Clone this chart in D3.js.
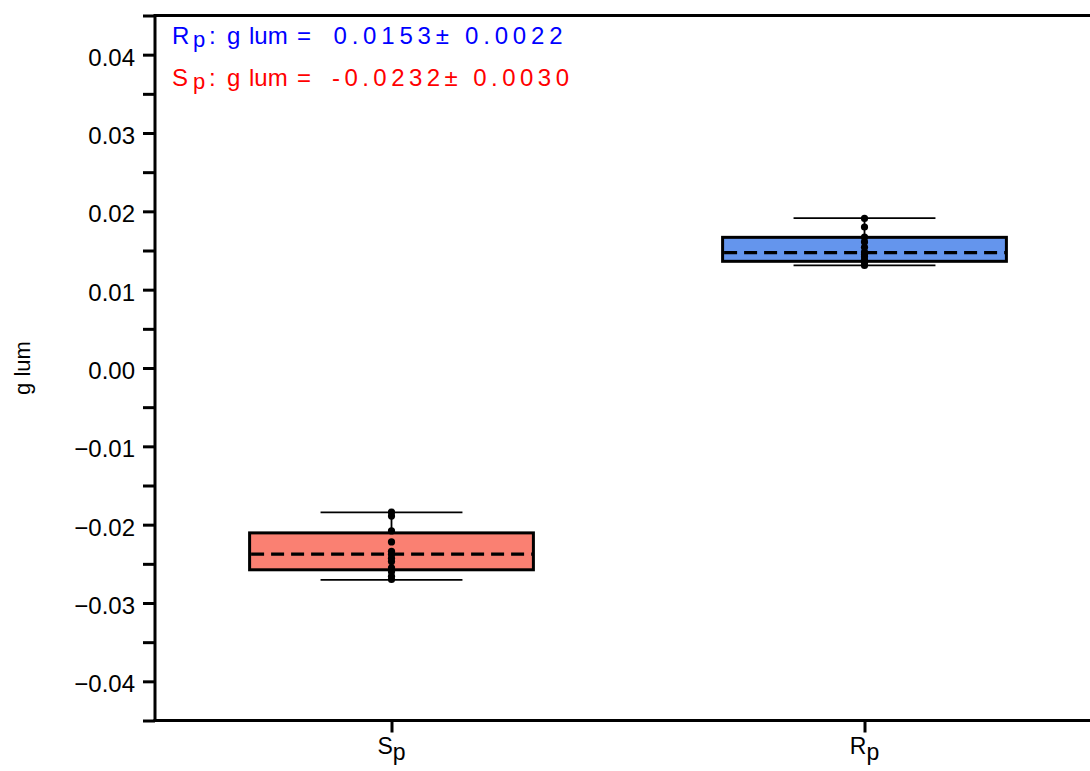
<!DOCTYPE html>
<html>
<head>
<meta charset="utf-8">
<script src="https://cdn.jsdelivr.net/npm/d3@7/dist/d3.min.js"></script>
<style>
  html, body { margin: 0; padding: 0; background: #fff; }
  svg { display: block; font-family: "Liberation Sans", Arial, sans-serif; }
</style>
</head>
<body>
<svg id="chart" width="1090" height="771"></svg>
<script>
// Categories (main letter + subscript) and box colours
const categories = ["S", "R"];
const categorySubs = ["p", "p"];
const boxColors = ["#fa8072", "#6495ed"];

// Individual g_lum measurements per category
const spValues = [-0.0184, -0.0189, -0.0208, -0.0222, -0.0234, -0.0238, -0.0243, -0.0247, -0.0255, -0.0260, -0.0266, -0.0270];
const rpValues = [0.0191, 0.0180, 0.0167, 0.0161, 0.0154, 0.0148, 0.0145, 0.0142, 0.0138, 0.0135, 0.0131];
const pointValues = [spValues, rpValues];

// Box statistics per category
const q1Values = [-0.02576, 0.01362];
const medianValues = [-0.02377, 0.01473];
const q3Values = [-0.02105, 0.01668];
const whiskerLow = [-0.02704, 0.01311];
const whiskerHigh = [-0.01842, 0.01914];

// Summary annotations (mean ± sd)
const summaryLabels = ["R", "S"];
const summaryMeans = ["0.0153", "-0.0232"];
const summarySds = ["0.0022", "0.0030"];
const summaryColors = ["#0000ff", "#ff0000"];

// Y ticks: labelled every 0.01, marks every 0.005
const yMajorTicks = [-0.04, -0.03, -0.02, -0.01, 0.00, 0.01, 0.02, 0.03, 0.04];
const yMinorTicks = [-0.045, -0.035, -0.025, -0.015, -0.005, 0.005, 0.015, 0.025, 0.035, 0.045];

const svg = d3.select("#chart");
const mLeft = 155, mRight = 1101, mTop = 15.5, mBottom = 720.5;

const x = d3.scaleLinear().domain([-0.5, 1.5]).range([mLeft, mRight]);
const y = d3.scaleLinear().domain([-0.045, 0.045]).range([mBottom, mTop]);

const boxW = 0.6, capW = 0.3;

// Boxes
categories.forEach((c, i) => {
  const g = svg.append("g");
  g.append("rect")
    .attr("x", x(i - boxW / 2)).attr("width", x(i + boxW / 2) - x(i - boxW / 2))
    .attr("y", y(q3Values[i])).attr("height", y(q1Values[i]) - y(q3Values[i]))
    .attr("fill", boxColors[i]).attr("stroke", "#000").attr("stroke-width", 3);
  // whisker stems
  g.append("line").attr("x1", x(i)).attr("x2", x(i))
    .attr("y1", y(q3Values[i])).attr("y2", y(whiskerHigh[i]))
    .attr("stroke", "#000").attr("stroke-width", 1.8);
  g.append("line").attr("x1", x(i)).attr("x2", x(i))
    .attr("y1", y(q1Values[i])).attr("y2", y(whiskerLow[i]))
    .attr("stroke", "#000").attr("stroke-width", 1.8);
  // caps
  [whiskerLow[i], whiskerHigh[i]].forEach(v => {
    g.append("line").attr("x1", x(i - capW / 2)).attr("x2", x(i + capW / 2))
      .attr("y1", y(v)).attr("y2", y(v))
      .attr("stroke", "#000").attr("stroke-width", 1.8);
  });
  // median
  g.append("line").attr("x1", x(i - boxW / 2) + 1.5).attr("x2", x(i + boxW / 2) - 1.5)
    .attr("y1", y(medianValues[i])).attr("y2", y(medianValues[i]))
    .attr("stroke", "#000").attr("stroke-width", 3.2).attr("stroke-dasharray", "13,7");
  // points
  g.selectAll("circle").data(pointValues[i]).join("circle")
    .attr("cx", x(i)).attr("cy", d => y(d)).attr("r", 3.6).attr("fill", "#000");
});

// Spines
const spine = svg.append("g").attr("stroke", "#000").attr("stroke-width", 3).attr("fill", "none");
spine.append("line").attr("x1", mLeft).attr("x2", mLeft).attr("y1", mTop).attr("y2", mBottom);
spine.append("line").attr("x1", mLeft - 1.5).attr("x2", 1090).attr("y1", mBottom).attr("y2", mBottom);
spine.append("line").attr("x1", mLeft - 1.5).attr("x2", 1090).attr("y1", mTop).attr("y2", mTop);

// Y axis: labelled major ticks
const gy = svg.append("g").attr("transform", `translate(${mLeft},0)`)
  .call(d3.axisLeft(y).tickValues(yMajorTicks).tickSize(12).tickPadding(8)
    .tickFormat(d => d3.format(".2f")(d).replace("-", "\u2212")));
gy.select(".domain").remove();
gy.selectAll(".tick line").attr("stroke-width", 3);
gy.selectAll(".tick text").attr("font-size", 24).attr("dy", "0.44em").attr("fill", "#000")
  .attr("font-family", "Liberation Sans, Arial, sans-serif");

// Y axis: unlabelled minor ticks
const gyMinor = svg.append("g").attr("transform", `translate(${mLeft},0)`)
  .call(d3.axisLeft(y).tickValues(yMinorTicks).tickSize(12).tickFormat(""));
gyMinor.select(".domain").remove();
gyMinor.selectAll(".tick line").attr("stroke-width", 3);

// X axis ticks
const gx = svg.append("g").attr("transform", `translate(0,${mBottom})`)
  .call(d3.axisBottom(x).tickValues([0, 1]).tickSize(12).tickFormat(""));
gx.select(".domain").remove();
gx.selectAll(".tick line").attr("stroke-width", 3);

// X tick labels with subscripts
categories.forEach((c, i) => {
  const t = svg.append("text").attr("x", x(i)).attr("y", 754)
    .attr("text-anchor", "middle").attr("font-size", 23).attr("fill", "#000");
  t.append("tspan").text(c);
  t.append("tspan").attr("dy", 6).attr("font-size", 23).text(categorySubs[i]);
});

// Y axis label
svg.append("text").attr("transform", `translate(30,368) rotate(-90)`)
  .attr("text-anchor", "middle").attr("font-size", 22).attr("fill", "#000")
  .text("g lum");

// Summary annotations
summaryLabels.forEach((s, i) => {
  const yb = 43.5 + i * 42;
  const col = summaryColors[i];
  const add = (txt, xPos, opts = {}) => {
    const t = svg.append("text").attr("x", xPos).attr("y", yb + (opts.dy || 0))
      .attr("font-size", opts.size || 24).attr("fill", col).text(txt);
    if (opts.len) t.attr("textLength", opts.len).attr("lengthAdjust", "spacing");
    return t;
  };
  add(s, 172);
  add("p", 193, { size: 22, dy: 3 });
  add(":", 209);
  add("g", 227);
  add("lum", 249);
  add("=", 297);
  const neg = summaryMeans[i].startsWith("-");
  add(`${summaryMeans[i]}\u00b1 ${summarySds[i]}`, neg ? 332 : 333.5, { len: neg ? 237 : 229 });
});
</script>
</body>
</html>
